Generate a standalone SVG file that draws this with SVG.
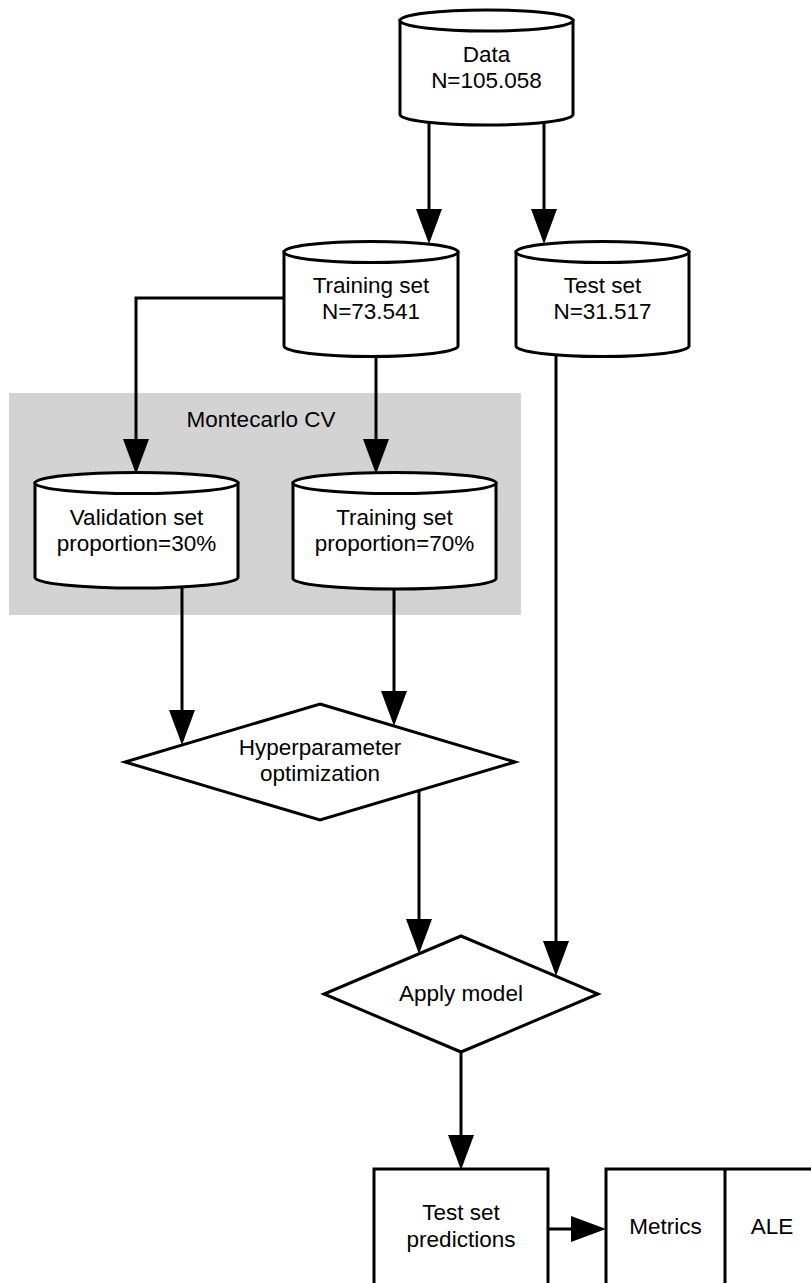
<svg xmlns="http://www.w3.org/2000/svg" width="811" height="1283" viewBox="0 0 811 1283">
<style>
.shape{fill:#fff;stroke:#000;stroke-width:3}
.edge{fill:none;stroke:#000;stroke-width:3}
text{font-family:"Liberation Sans",Arial,sans-serif;font-size:22.5px;fill:#000;text-anchor:middle}
</style>
<defs>
<marker id="arr" markerUnits="userSpaceOnUse" markerWidth="36" markerHeight="26" refX="25" refY="13" orient="auto">
<path d="M0,0 L35,13 L0,26 Z" fill="#000"/>
</marker>
</defs>
<rect id="montecarlo" x="9" y="393" width="512" height="222" fill="#d3d3d3"/>
<text x="261" y="427">Montecarlo CV</text>
<g id="connectors">
<path class="edge" d="M429,122 V234" marker-end="url(#arr)"/>
<path class="edge" d="M544,122 V234" marker-end="url(#arr)"/>
<path class="edge" d="M284,298 H136 V464" marker-end="url(#arr)"/>
<path class="edge" d="M376,355 V464" marker-end="url(#arr)"/>
<path class="edge" d="M182,586 V735" marker-end="url(#arr)"/>
<path class="edge" d="M394,587 V716" marker-end="url(#arr)"/>
<path class="edge" d="M556,355 V966" marker-end="url(#arr)"/>
<path class="edge" d="M419,791 V944" marker-end="url(#arr)"/>
<path class="edge" d="M461,1052 V1160" marker-end="url(#arr)"/>
<path class="edge" d="M548,1229 H596" marker-end="url(#arr)"/>
</g>
<g id="data">
<path class="shape" d="M400,20.5 V114.5 A86.5,10.5 0 0 0 573,114.5 V20.5 Z"/>
<ellipse class="shape" cx="486.5" cy="20.5" rx="86.5" ry="10.5"/>
<text x="486.5" y="62">Data</text>
<text x="486.5" y="88">N=105.058</text>
</g>
<g id="training">
<path class="shape" d="M284,252 V346 A87,10.5 0 0 0 458,346 V252 Z"/>
<ellipse class="shape" cx="371" cy="252" rx="87" ry="10.5"/>
<text x="371" y="293">Training set</text>
<text x="371" y="319">N=73.541</text>
</g>
<g id="test">
<path class="shape" d="M516,252 V346 A86.5,10.5 0 0 0 689,346 V252 Z"/>
<ellipse class="shape" cx="602.5" cy="252" rx="86.5" ry="10.5"/>
<text x="602.5" y="293">Test set</text>
<text x="602.5" y="319">N=31.517</text>
</g>
<g id="validation">
<path class="shape" d="M35,483 V577.5 A101.5,10.5 0 0 0 238,577.5 V483 Z"/>
<ellipse class="shape" cx="136.5" cy="483" rx="101.5" ry="10.5"/>
<text x="136.5" y="525">Validation set</text>
<text x="136.5" y="551">proportion=30%</text>
</g>
<g id="trainprop">
<path class="shape" d="M293,483 V578.5 A101.5,10.5 0 0 0 496,578.5 V483 Z"/>
<ellipse class="shape" cx="394.5" cy="483" rx="101.5" ry="10.5"/>
<text x="394.5" y="525">Training set</text>
<text x="394.5" y="551">proportion=70%</text>
</g>
<g id="hyper">
<path class="shape" d="M320,704 L515,762 L320,820 L125,762 Z"/>
<text x="320" y="755">Hyperparameter</text>
<text x="320" y="781">optimization</text>
</g>
<g id="apply">
<path class="shape" d="M461,936 L598,994 L461,1052 L324,994 Z"/>
<text x="461" y="1001">Apply model</text>
</g>
<g id="predictions">
<rect class="shape" x="374" y="1169" width="174" height="120"/>
<text x="461" y="1220">Test set</text>
<text x="461" y="1247">predictions</text>
</g>
<g id="results">
<rect class="shape" x="606" y="1169" width="230" height="120"/>
<line class="edge" x1="725" y1="1169" x2="725" y2="1289"/>
<text x="665.5" y="1234">Metrics</text>
<text x="772" y="1234">ALE</text>
</g>
</svg>
